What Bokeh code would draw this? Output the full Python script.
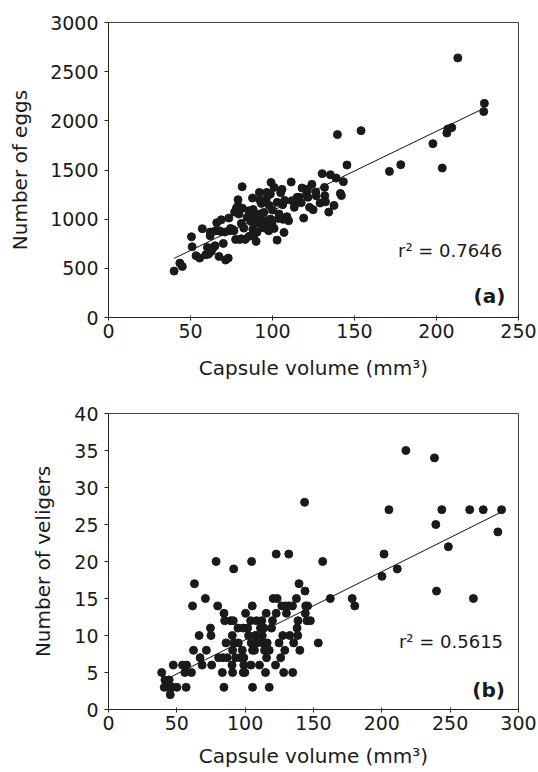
from bokeh.plotting import figure
from bokeh.layouts import column
from bokeh.models import Label, FixedTicker, Range1d
from bokeh.embed import file_html
from bokeh.resources import INLINE

# ---------------- data: panel (a) ----------------
eggs_volume = [40, 43.5, 45, 50.6, 51, 53.4, 55.6, 57.2, 59.3, 62, 62, 61, 62.7, 64, 65, 66, 67.4, 68.8,
               70, 69, 71.4, 73, 71, 73.4, 74.4, 75.8, 76.9, 77.5, 79, 79, 78, 80, 81, 81.5, 81.7, 81,
               82.5, 83.3, 84.5, 85.6, 86.8, 87.8, 88.2, 88, 90, 90.6, 90.6, 92, 92.2, 92.2, 93.2, 93.9,
               94.7, 95.3, 96.5, 97, 98, 98.7, 99.1, 98.7, 99.7, 101, 101, 102.8, 103.6, 105, 105.8,
               106.2, 106.4, 107, 107.4, 108.8, 109.8, 111.4, 111.9, 113.3, 115, 117.5, 118, 119, 120.7,
               121.3, 122.6, 124, 124.8, 126.4, 126.6, 129, 130.3, 131.7, 131.9, 132.3, 134.3, 135.3,
               137.5, 138.8, 139.6, 141.4, 142, 143.2, 145.4, 154, 171.3, 178.2, 197.8, 203.5, 206.3,
               206.9, 209.3, 213, 229.2, 228.8,
               88.6, 96, 97.7, 100, 102.8, 104, 76.5, 73.8, 79.5, 85.6, 96, 93.6, 89, 114.9, 116.3,
               121.6, 67.4, 65.3, 60.3]
eggs_count = [472, 553, 519, 821, 719, 628, 604, 903, 638, 869, 831, 645, 672, 713, 730, 964, 621, 994,
              753, 872, 584, 604, 869, 1011, 906, 896, 1072, 794, 1198, 1133, 1113, 794, 801, 1330, 1110, 957,
              909, 794, 1018, 825, 977, 1215, 1099, 896, 774, 964, 869, 1272, 1198, 1052, 1160, 981,
              1069, 909, 1272, 1235, 1140, 1255, 1374, 1001, 953, 1323, 906, 787, 1008, 1269, 1303,
              1147, 998, 865, 1191, 1025, 984, 1378, 1188, 1120, 1222, 1167, 1317, 1011, 1249,
              1303, 1120, 1354, 1096, 1276, 1238, 1164, 1463, 1323, 1238, 1177, 1072, 1452,
              1140, 1418, 1860, 1262, 1240, 1381, 1551, 1900, 1486, 1554, 1768, 1520, 1876,
              1917, 1931, 2640, 2178, 2094,
              831, 984, 882, 1093, 1171, 1052, 882, 882, 1052, 1086, 1188, 916, 1018, 1174, 1222,
              1222, 882, 882, 713]
eggs_fit_x = [40, 229]
eggs_fit_y = [601, 2128]
eggs_r2 = "r\u00b2 = 0.7646"

# ---------------- data: panel (b) ----------------
vel_volume = [38.9, 41.3, 44.4, 40.8, 43.2, 46.9, 50, 45.2, 47.4, 54.2, 57.1, 55.9, 60.7, 56.8, 61.5, 62.9,
              62.2, 66.3, 67, 68.5, 70.9, 71.6, 74.6, 75, 75.5, 78.7, 79.9, 80.6, 83.3, 84.5, 84.5, 85, 86,
              83.6, 86.8, 89.4, 91.3, 90.6, 90.4, 90.8, 91.6, 90.8, 93, 94.7, 95, 96.6, 99, 97.9, 98.6,
              98.6, 99.8, 99, 100.3, 101.8, 102.5, 104, 104.7, 104.4, 104.2, 105.2, 105.4, 105.4, 107.6,
              108.3, 110.5, 111.2, 112.2, 112.5, 113, 114.2, 114.9, 115.4, 115.6, 116.1, 117.6, 117.6,
              119.3, 120, 120.5, 122.2, 122.7, 123.4, 122.7, 124.8, 126, 126.8, 127.5, 128.2, 129, 129.7,
              132.1, 134.6, 130.2, 131.9, 132.6, 134.8, 135.5, 137.5, 138, 138.7, 138.5, 139.4, 140,
              143.5, 143.8, 144, 144.3, 145.7, 145.2, 147.7, 153.5, 156.7, 162.3, 178.3, 180.2, 200.1,
              201.6, 205.2, 211.3, 217.6, 238.5, 239.5, 240, 243.9, 248.7, 264.3, 267, 274.2, 284.9,
              287.6, 91.8, 113.7, 108.8, 106.8]
vel_count = [5, 4, 4, 3, 3, 3, 3, 2, 6, 6, 6, 5, 5, 3, 14, 17,
             8, 10, 7, 6, 15, 8, 11, 10, 6, 20, 14, 7, 5, 3, 13, 12, 9,
             7, 7, 12, 12, 10, 6, 5, 19, 8, 7, 11, 9, 7, 7, 8, 11,
             5, 5, 6, 13, 11, 10, 12, 20, 9, 6, 14, 3, 8, 10,
             12, 6, 11, 12, 10, 9, 8, 5, 13, 7, 9, 3, 8,
             11, 12, 15, 6, 21, 15, 13, 9, 7, 14, 10, 5, 8, 14,
             14, 14, 13, 21, 10, 5, 9, 15, 11, 12, 10, 17, 8,
             28, 16, 13, 14, 14, 12, 12, 9, 20, 15, 15, 14, 18,
             21, 27, 19, 35, 34, 25, 16, 27, 22, 27, 15, 27, 24,
             27, 9, 11, 9, 8]
vel_fit_x = [45.7, 287.6]
vel_fit_y = [4.41, 26.7]
vel_r2 = "r\u00b2 = 0.5615"

x_label = "Capsule volume (mm\u00b3)"
FONT = "DejaVu Sans"
INK = "#1a1a1a"


def make_panel(xs, ys, fx, fy, xmax, xstep, ymax, ystep, ylabel, r2, r2pos, tag, tagpos,
               height, mb_left, mb_top, mb_bottom, xlab_standoff, ylab_standoff):
    p = figure(width=538, height=height, output_backend="svg", toolbar_location=None,
               x_range=Range1d(0, xmax), y_range=Range1d(0, ymax),
               min_border_left=mb_left, min_border_right=20,
               min_border_top=mb_top, min_border_bottom=mb_bottom)
    p.grid.visible = False
    p.outline_line_color = "#444444"
    p.background_fill_color = "white"
    p.border_fill_color = "white"

    p.xaxis.ticker = FixedTicker(ticks=list(range(0, xmax + 1, xstep)))
    p.yaxis.ticker = FixedTicker(ticks=list(range(0, ymax + 1, ystep)))
    for ax in (p.xaxis, p.yaxis):
        ax.axis_line_color = "#222222"
        ax.major_tick_line_color = "#222222"
        ax.minor_tick_line_color = None
        ax.major_label_text_font = FONT
        ax.major_label_text_font_size = "19px"
        ax.major_label_text_color = INK
        ax.axis_label_text_font = FONT
        ax.axis_label_text_font_size = "20px"
        ax.axis_label_text_font_style = "normal"
        ax.axis_label_text_color = INK
    p.xaxis.major_tick_in = 2
    p.xaxis.major_tick_out = 3
    p.xaxis.major_label_standoff = 3
    p.yaxis.major_tick_in = 0
    p.yaxis.major_tick_out = 4
    p.yaxis.major_label_standoff = 6
    p.xaxis.axis_label = x_label
    p.yaxis.axis_label = ylabel
    p.xaxis.axis_label_standoff = xlab_standoff
    p.yaxis.axis_label_standoff = ylab_standoff

    p.line(fx, fy, line_color="#111111", line_width=1)
    p.scatter(xs, ys, marker="circle", size=8, fill_color=INK, line_color=INK)

    p.add_layout(Label(x=r2pos[0], y=r2pos[1], text=r2, text_align="right",
                       text_baseline="alphabetic", text_font=FONT, text_font_size="18px",
                       text_color=INK))
    p.add_layout(Label(x=tagpos[0], y=tagpos[1], text=tag, text_align="right",
                       text_baseline="alphabetic", text_font=FONT, text_font_size="20px",
                       text_font_style="bold", text_color=INK))
    return p


top = make_panel(eggs_volume, eggs_count, eggs_fit_x, eggs_fit_y, 250, 50, 3000, 500,
                 "Number of eggs", eggs_r2, (240, 685), "(a)", (242, 215),
                 height=391, mb_left=106, mb_top=22, mb_bottom=74,
                 xlab_standoff=15, ylab_standoff=15)
bottom = make_panel(vel_volume, vel_count, vel_fit_x, vel_fit_y, 300, 50, 40, 5,
                    "Number of veligers", vel_r2, (288.7, 9.2), "(b)", (290, 2.6),
                    height=381, mb_left=108, mb_top=22, mb_bottom=63,
                    xlab_standoff=11, ylab_standoff=16)

layout = column(top, bottom, spacing=0)
open("out.html", "w").write(file_html(layout, INLINE))
